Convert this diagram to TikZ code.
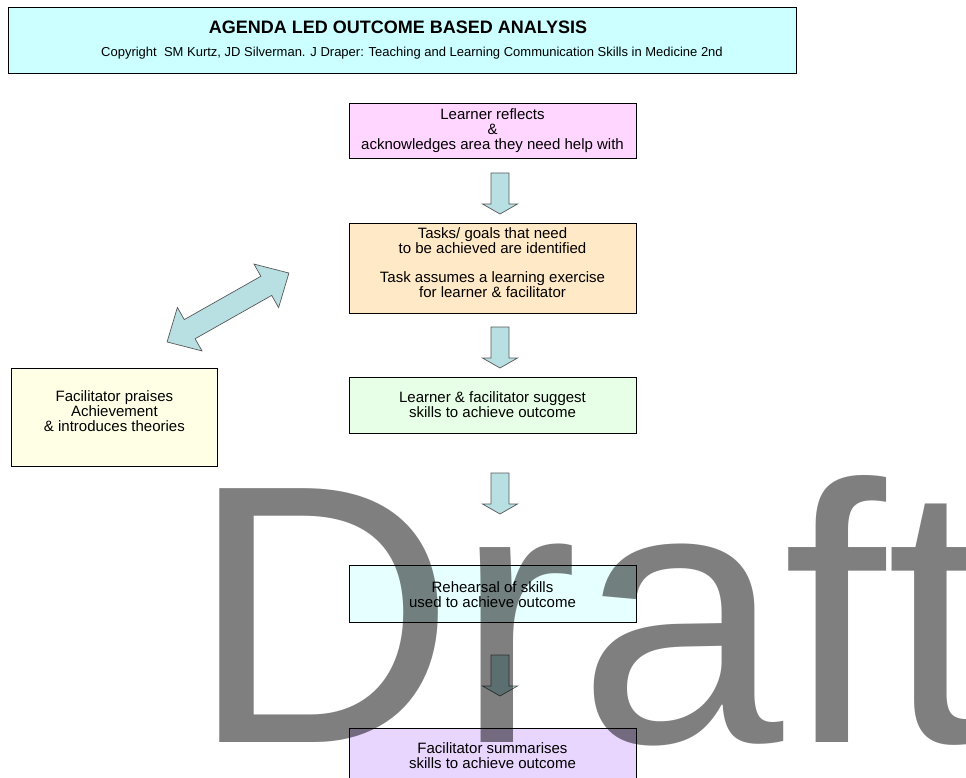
\documentclass[tikz,border=0pt]{standalone}
\usepackage{fontspec}
\setmainfont{Liberation Sans}
\usetikzlibrary{positioning}

\definecolor{headcyan}{HTML}{CCFFFF}
\definecolor{reflectpink}{HTML}{FFD6FF}
\definecolor{taskpeach}{HTML}{FFE9C6}
\definecolor{skillgreen}{HTML}{E6FFE6}
\definecolor{praiseyellow}{HTML}{FFFFE6}
\definecolor{rehearsecyan}{HTML}{E6FFFF}
\definecolor{summarylilac}{HTML}{E9D6FF}
\definecolor{arrowblue}{HTML}{B8DFE2}

\tikzset{
    stage/.style = {
        draw = black,
        line width = 0.8pt,
        minimum width = 287pt,
        align = center,
        inner sep = 0pt,
        font = \fontsize{15}{15}\selectfont,
        },
    block arrow/.style = {
        fill = arrowblue,
        draw = black!65,
        line width = 0.7pt,
        },
    down arrow/.pic = {
        \path[block arrow] (-9,0) -- (9,0) -- (9,31) -- (17.5,31) -- (0,41) -- (-17.5,31) -- (-9,31) -- cycle;
        },
}

\begin{document}
\begin{tikzpicture}[x=1pt, y=-1pt]
    \useasboundingbox (0,0) rectangle (966,778);

    % header
    \node[draw, line width=0.8pt, fill=headcyan, minimum width=788pt, minimum height=66pt, anchor=north west] (header) at (8,7) {};
    \node[font=\bfseries\fontsize{18}{18}\selectfont] (title) at (398,27) {AGENDA LED OUTCOME BASED ANALYSIS};
    \node[font=\fontsize{13}{13}\selectfont] (copyright) at (412,53) {Copyright\ \ SM Kurtz, JD Silverman. J Draper: Teaching and Learning Communication Skills in Medicine 2nd};

    % stages
    \node[stage, fill=reflectpink, minimum height=55pt, anchor=north] (reflect) at (492.5,103) {Learner reflects\\\&\\acknowledges area they need help with};
    \node[stage, fill=taskpeach, minimum height=90pt, below=64pt of reflect] (tasks) {Tasks/ goals that need\\to be achieved are identified\\[14.5pt]Task assumes a learning exercise\\for learner \& facilitator\\[-4pt]\mbox{}};
    \node[stage, fill=skillgreen, minimum height=56pt, below=63pt of tasks] (suggest) {Learner \& facilitator suggest\\skills to achieve outcome};
    \node[stage, fill=rehearsecyan, minimum height=57pt, below=132pt of suggest] (rehearse) {Rehearsal of skills\\used to achieve outcome};
    \node[stage, fill=summarylilac, minimum height=54pt, below=105pt of rehearse] (summary) {Facilitator summarises\\skills to achieve outcome};
    \node[stage, fill=praiseyellow, minimum width=206pt, minimum height=98pt, anchor=north west] (praise) at (11,368) {Facilitator praises\\Achievement\\\& introduces theories\\[-2pt]\mbox{}};

    % block arrows
    \pic at (500,173) {down arrow};
    \pic at (500,327) {down arrow};
    \pic at (500,473) {down arrow};
    \pic at (500,655) {down arrow};
    \begin{scope}[shift={(228,307.5)}, rotate=29.5]
        \path[block arrow] (-70,0) -- (-44,-25) -- (-44,-11) -- (44,-11) -- (44,-25) -- (70,0) -- (44,25) -- (44,11) -- (-44,11) -- (-44,25) -- cycle;
    \end{scope}

    % watermark
    \node[font=\fontsize{369}{369}\selectfont, text=black, text opacity=0.5, anchor=base west, inner sep=0pt] (draft) at (189,742) {Draft};
\end{tikzpicture}
\end{document}
